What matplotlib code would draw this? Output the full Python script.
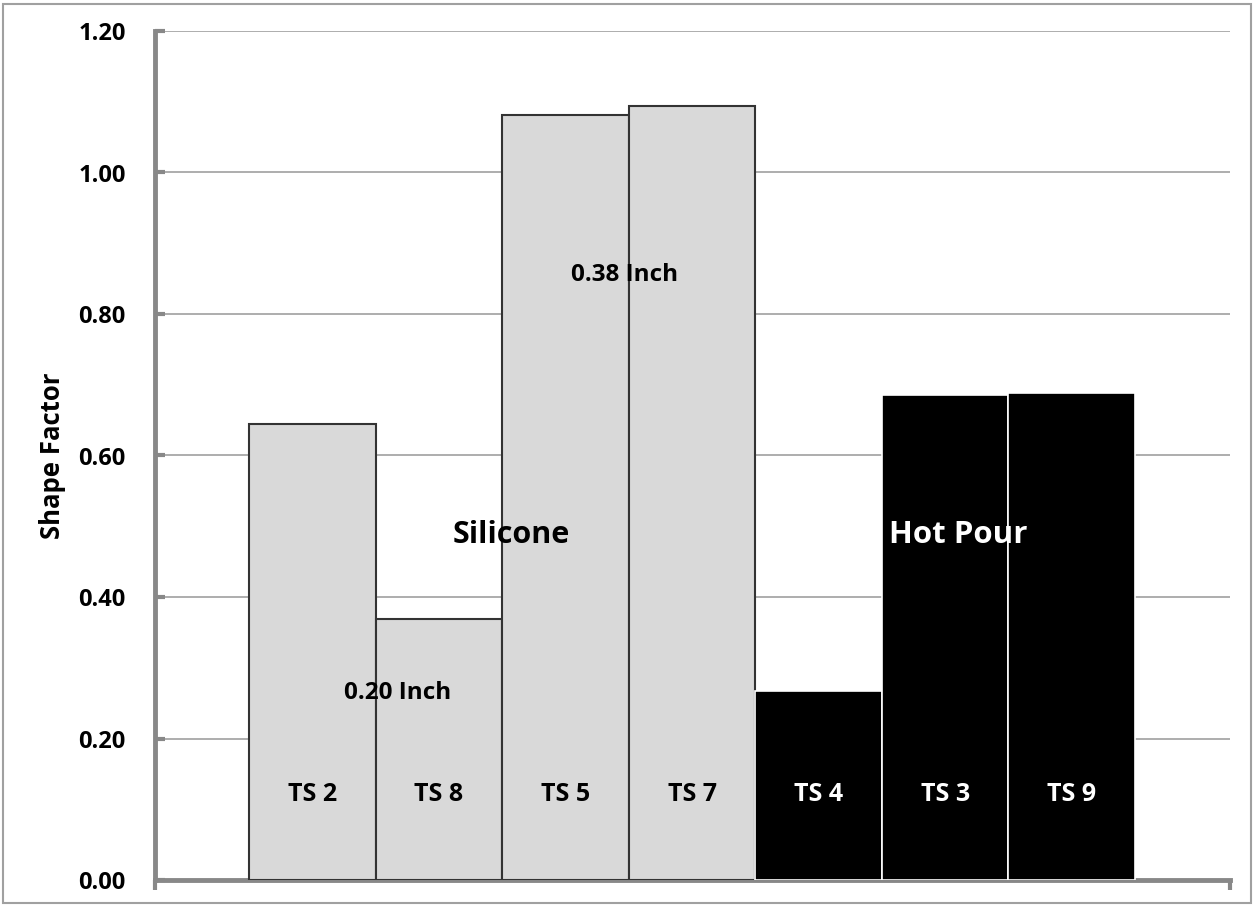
import matplotlib
matplotlib.use("Agg")
import matplotlib.pyplot as plt
from matplotlib.patches import Rectangle

categories = ["TS 2", "TS 8", "TS 5", "TS 7", "TS 4", "TS 3", "TS 9"]
values = [0.645, 0.369, 1.081, 1.094, 0.267, 0.686, 0.688]
groups = ["Silicone", "Silicone", "Silicone", "Silicone", "Hot Pour", "Hot Pour", "Hot Pour"]
yticks = [0.0, 0.2, 0.4, 0.6, 0.8, 1.0, 1.2]

plt.rcParams['font.family'] = ['Open Sans', 'DejaVu Sans']
plt.rcParams['font.weight'] = 'bold'

fig = plt.figure(figsize=(12.54, 9.05), dpi=100)
fig.patches.append(Rectangle((3/1254, 1 - 903/905), 1248/1254, 899/905, transform=fig.transFigure,
                             fill=False, edgecolor='#a0a0a0', linewidth=1.5))
ax = fig.add_axes([155/1254, 25/905, (1230-155)/1254, (880-31)/905])

for i, (v, g) in enumerate(zip(values, groups)):
    if g == "Silicone":
        ax.bar(i, v, width=1.0, color='#d9d9d9', edgecolor='#333333', linewidth=1.5, zorder=3)
        tc = 'black'
    else:
        ax.bar(i, v, width=1.0, color='black', edgecolor='white', linewidth=1.2, zorder=3)
        tc = 'white'
    ax.text(i, 0.121, categories[i], ha='center', va='center', fontsize=18, fontweight='bold',
            color=tc, zorder=4)

ax.set_xlim(-0.5 - 94/126.6, 6.5 + 95/126.6)
ax.set_ylim(0, 1.2)
ax.set_yticks(yticks)
ax.set_yticklabels([f"{t:.2f}" for t in yticks], fontsize=17, fontweight='bold')
ax.yaxis.grid(True, color='#a0a0a0', linewidth=1.2, zorder=0)
ax.set_axisbelow(True)
ax.tick_params(axis='y', direction='in', length=7, width=3, color='#888888', pad=21)
ax.set_xticks([ax.get_xlim()[0], ax.get_xlim()[1]])
ax.set_xticklabels([])
ax.tick_params(axis='x', direction='out', length=7, width=3, color='#888888')
for s in ['top', 'right']:
    ax.spines[s].set_visible(False)
for s in ['left', 'bottom']:
    ax.spines[s].set_color('#888888')
    ax.spines[s].set_linewidth(3.5)

ax.set_ylabel("Shape Factor", fontsize=18.5, fontweight='bold', labelpad=9)

ax.text(1.572, 0.488, "Silicone", ha='center', va='center', fontsize=22, fontweight='bold', zorder=5)
ax.text(5.107, 0.488, "Hot Pour", ha='center', va='center', fontsize=22.5, fontweight='bold',
        color='white', zorder=5)
ax.text(0.675, 0.264, "0.20 Inch", ha='center', va='center', fontsize=17.5, fontweight='bold', zorder=5)
ax.text(2.465, 0.855, "0.38 Inch", ha='center', va='center', fontsize=17.5, fontweight='bold', zorder=5)

fig.savefig("out.png", dpi=100)
